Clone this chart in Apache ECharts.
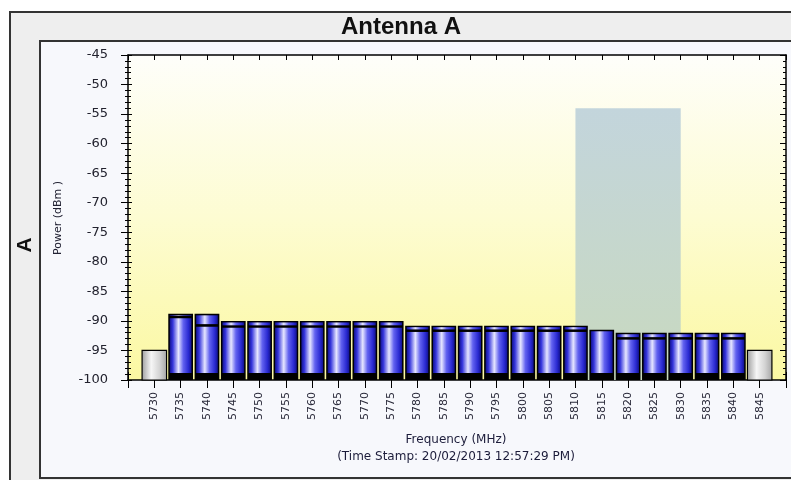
<!DOCTYPE html>
<html>
<head>
<meta charset="utf-8">
<script src="https://cdn.jsdelivr.net/npm/echarts@6/dist/echarts.min.js"></script>
<style>
  html, body { margin: 0; padding: 0; background: #ffffff; }
  #chart { width: 791px; height: 480px; }
</style>
</head>
<body>
<div id="chart"></div>
<script>
// Spectrum scan, antenna A: channel power per 5 MHz step
const edgeFreqs = [5730, 5845];          // guard channels (grey)
const edgeLevels = [-95, -95];

const chanFreqs = [5735, 5740, 5745, 5750, 5755, 5760, 5765, 5770, 5775, 5780, 5785,
                   5790, 5795, 5800, 5805, 5810, 5815, 5820, 5825, 5830, 5835, 5840];
const peakDbm = [-88.8, -88.8, -90, -90, -90, -90, -90, -90, -90, -90.8, -90.8,
                 -90.8, -90.8, -90.8, -90.8, -90.8, -91.5, -92, -92, -92, -92, -92];
const avgDbm  = [-89.4, -90.8, -91, -91, -91, -91, -91, -91, -91, -91.7, -91.7,
                 -91.7, -91.7, -91.7, -91.7, -91.7, -91.5, -93, -93, -93, -93, -93];

// occupied band highlight
const bandFreqs = [5810, 5830];
const bandTopDbm = -54;

// axis ranges
const freqMin = 5725, freqMax = 5850, freqStep = 5;
const dbmMin = -100, dbmMax = -45, dbmStep = 5;

const FONT = 'DejaVu Sans, Arial, sans-serif';

function blueFill() {
  return new echarts.graphic.LinearGradient(0, 0, 1, 0, [
    { offset: 0, color: '#12128f' },
    { offset: 0.14, color: '#3535dc' },
    { offset: 0.40, color: '#e6e6ff' },
    { offset: 0.62, color: '#6262f0' },
    { offset: 0.86, color: '#2a2ad2' },
    { offset: 1, color: '#12128f' }
  ]);
}
function greyFill() {
  return new echarts.graphic.LinearGradient(0, 0, 1, 0, [
    { offset: 0, color: '#9c9c9c' },
    { offset: 0.38, color: '#f6f6f6' },
    { offset: 0.7, color: '#d4d4d4' },
    { offset: 1, color: '#a4a4a4' }
  ]);
}

function renderChannel(params, api) {
  const f = api.value(0), peak = api.value(1), avg = api.value(2);
  const w = api.size([freqStep, 0])[0] * 0.94;
  const pTop = api.coord([f, peak]);
  const pAvg = api.coord([f, avg]);
  const pBase = api.coord([f, dbmMin]);
  const x = pTop[0] - w / 2;
  const inset = 1.5;
  const children = [{
    type: 'rect',
    shape: { x: x, y: pTop[1], width: w, height: pBase[1] - pTop[1] },
    style: { fill: '#000000' }
  }];
  const capH = pAvg[1] - pTop[1];
  let bodyTop = pTop[1] + inset;
  if (capH > 2.5) {
    children.push({
      type: 'rect',
      shape: { x: x + inset, y: pTop[1] + inset, width: w - 2 * inset, height: Math.max(capH - inset - 1.5, 0.6) },
      style: { fill: blueFill() }
    });
    bodyTop = pAvg[1] + 1;
  }
  children.push({
    type: 'rect',
    shape: { x: x + inset, y: bodyTop, width: w - 2 * inset, height: (pBase[1] - 7) - bodyTop },
    style: { fill: blueFill() }
  });
  return { type: 'group', children: children };
}

function renderEdge(params, api) {
  const f = api.value(0), level = api.value(1);
  const w = api.size([freqStep, 0])[0] * 0.93;
  const pTop = api.coord([f, level]);
  const pBase = api.coord([f, dbmMin]);
  return {
    type: 'rect',
    shape: { x: pTop[0] - w / 2, y: pTop[1], width: w, height: pBase[1] - pTop[1] },
    style: { fill: greyFill(), stroke: '#000000', lineWidth: 1.2 }
  };
}

const chart = echarts.init(document.getElementById('chart'), null, { renderer: 'canvas' });

const tickStyle = { color: '#000000', width: 1 };
const hideEnds = v => (v === freqMin || v === freqMax) ? '' : String(v);

chart.setOption({
  animation: false,
  backgroundColor: '#ffffff',
  graphic: [
    // outer frame with grey header and side strip
    { type: 'rect', z: -20, shape: { x: 10, y: 12, width: 800, height: 480 },
      style: { fill: '#eeeeee', stroke: '#333333', lineWidth: 2 } },
    // inner panel
    { type: 'rect', z: -19, shape: { x: 40, y: 41, width: 780, height: 437 },
      style: { fill: '#f7f8fc', stroke: '#333333', lineWidth: 2 } },
    { type: 'text', z: 50, x: 401, y: 27,
      style: { text: 'Antenna A', font: 'bold 24px "Liberation Sans", Arial, sans-serif', fill: '#111111',
               textAlign: 'center', textVerticalAlign: 'middle' } },
    { type: 'text', z: 50, x: 25, y: 245, rotation: Math.PI / 2,
      style: { text: 'A', font: 'bold 21px "Liberation Sans", Arial, sans-serif', fill: '#111111',
               textAlign: 'center', textVerticalAlign: 'middle' } },
    { type: 'text', z: 50, x: 58, y: 218, rotation: Math.PI / 2,
      style: { text: 'Power (dBm )', font: '11px ' + FONT, fill: '#222233',
               textAlign: 'center', textVerticalAlign: 'middle' } },
    { type: 'text', z: 50, x: 456, y: 440,
      style: { text: 'Frequency (MHz)', font: '12px ' + FONT, fill: '#1c1c3a',
               textAlign: 'center', textVerticalAlign: 'middle' } },
    { type: 'text', z: 50, x: 456, y: 457,
      style: { text: '(Time Stamp: 20/02/2013 12:57:29 PM)', font: '12px ' + FONT, fill: '#1c1c3a',
               textAlign: 'center', textVerticalAlign: 'middle' } }
  ],
  grid: {
    left: 128, right: 5, top: 55, bottom: 100,
    show: true,
    borderWidth: 0,
    backgroundColor: new echarts.graphic.LinearGradient(0, 0, 0, 1, [
      { offset: 0, color: '#fefefa' },
      { offset: 0.5, color: '#fdfcd2' },
      { offset: 1, color: '#fbf8a2' }
    ])
  },
  xAxis: [
    {
      type: 'value', position: 'bottom', min: freqMin, max: freqMax, interval: freqStep,
      splitLine: { show: false },
      axisLine: { show: true, lineStyle: { color: '#000000', width: 1.5 } },
      axisTick: { show: true, length: 8, lineStyle: tickStyle },
      axisLabel: { rotate: 90, formatter: hideEnds, fontFamily: FONT, fontSize: 11,
                   color: '#2a2a3a', margin: 12 }
    },
    {
      type: 'value', position: 'bottom', min: freqMin, max: freqMax, interval: freqStep,
      splitLine: { show: false }, axisLine: { show: false },
      axisTick: { show: true, inside: true, length: 8, lineStyle: tickStyle },
      axisLabel: { show: false }
    },
    {
      type: 'value', position: 'top', min: freqMin, max: freqMax, interval: freqStep,
      splitLine: { show: false },
      axisLine: { show: true, lineStyle: { color: '#000000', width: 1.5 } },
      axisTick: { show: true, inside: true, length: 5, lineStyle: tickStyle },
      axisLabel: { show: false }
    }
  ],
  yAxis: [
    {
      type: 'value', position: 'left', min: dbmMin, max: dbmMax, interval: dbmStep,
      splitLine: { show: false },
      axisLine: { show: true, lineStyle: { color: '#000000', width: 1.5 } },
      axisTick: { show: true, length: 7, lineStyle: tickStyle },
      minorTick: { show: true, splitNumber: 5, length: 3, lineStyle: tickStyle },
      axisLabel: { fontFamily: FONT, fontSize: 13, color: '#22222e', margin: 20 }
    },
    {
      type: 'value', position: 'left', min: dbmMin, max: dbmMax, interval: dbmStep,
      splitLine: { show: false }, axisLine: { show: false },
      axisTick: { show: true, inside: true, length: 4, lineStyle: tickStyle },
      minorTick: { show: true, splitNumber: 5, length: 3, lineStyle: tickStyle },
      axisLabel: { show: false }
    },
    {
      type: 'value', position: 'right', min: dbmMin, max: dbmMax, interval: dbmStep,
      splitLine: { show: false },
      axisLine: { show: true, lineStyle: { color: '#000000', width: 1.5 } },
      axisTick: { show: true, inside: true, length: 6, lineStyle: tickStyle },
      minorTick: { show: true, splitNumber: 5, length: 3, lineStyle: tickStyle },
      axisLabel: { show: false }
    }
  ],
  series: [
    {
      name: 'Occupied band', type: 'line', data: [], z: 1, silent: true,
      markArea: {
        silent: true,
        itemStyle: {
          color: new echarts.graphic.LinearGradient(0, 0, 0, 1, [
            { offset: 0, color: '#c3d5dc' },
            { offset: 1, color: '#c8d9bf' }
          ])
        },
        data: [[{ xAxis: bandFreqs[0], yAxis: bandTopDbm }, { xAxis: bandFreqs[1], yAxis: dbmMin }]]
      }
    },
    {
      name: 'Guard', type: 'custom', z: 3, renderItem: renderEdge,
      encode: { x: 0, y: 1 },
      data: edgeFreqs.map((f, i) => [f, edgeLevels[i]])
    },
    {
      name: 'Channel power', type: 'custom', z: 3, renderItem: renderChannel,
      encode: { x: 0, y: [1, 2] },
      data: chanFreqs.map((f, i) => [f, peakDbm[i], avgDbm[i]])
    }
  ]
});
</script>
</body>
</html>
